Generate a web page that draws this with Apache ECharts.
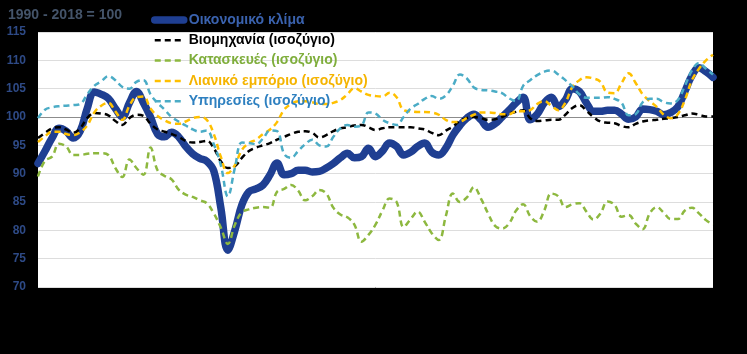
<!DOCTYPE html>
<html>
<head>
<meta charset="utf-8">
<script src="https://cdn.jsdelivr.net/npm/echarts@6/dist/echarts.min.js"></script>
<style>
  html, body { margin: 0; padding: 0; background: #000; }
  #chart { width: 747px; height: 354px; }
</style>
</head>
<body>
<div id="chart"></div>
<script>
// περίοδοι (οι ετικέτες του άξονα x δεν φαίνονται στο γράφημα)
var periods = [];
for (var i = 0; i < 97; i++) { periods.push('t' + i); }

var yTicks = [70, 75, 80, 85, 90, 95, 100, 105, 110, 115];

// Οικονομικό κλίμα
var climate = [91.8, 94, 96.3, 98, 97.5, 96.3, 97.5, 101.5, 104.4, 104, 103.3, 101.5, 100, 102.5, 104.5, 102.5,
  100, 97, 96.5, 97.3, 96.5, 94.8, 93.5, 92.7, 92.2, 90.5, 84, 76.5, 80, 84.5, 86.8, 87.3,
  88, 89.8, 91.9, 89.8, 90, 90.6, 90.6, 90.3, 90.4, 91, 91.8, 92.8, 93.6, 92.8, 93, 94.5,
  93, 94, 95.4, 94.8, 93.3, 93.8, 94.8, 95.4, 93.8, 93.3, 94.5, 96.8, 98.5, 99.8, 100.5, 99.5,
  98.2, 98.8, 100, 101.2, 102.5, 103.5, 99.5, 100.5, 102.5, 103.5, 101.8, 103, 105, 104.5, 102.5, 101,
  101, 101.2, 101.2, 100.5, 99.6, 100, 101.4, 101.3, 101, 100.4, 100.8, 101.8, 104.5, 107.3, 108.7, 108, 107];

// Βιομηχανία (ισοζύγιο)
var industry = [96.3, 97.2, 98, 98.2, 97.8, 97.2, 98, 99.8, 100.7, 100.6, 100.3, 99.3, 98.6, 99.8, 100.4, 100.2,
  98.8, 97.8, 97.4, 97, 96.5, 95.8, 95.5, 95.6, 95.8, 94.5, 92.2, 91, 91.3, 92.8, 94, 94.6,
  95, 95.4, 96, 96.5, 97, 97.4, 97.5, 97.2, 96.4, 96.8, 97.5, 98, 98.2, 98.5, 98.6, 98.2,
  97.7, 98, 98.2, 98.2, 98.2, 98.2, 98, 97.8, 97.2, 96.8, 97.6, 98.3, 99.3, 99.8, 100, 99.8,
  99.5, 99.6, 100, 100.6, 100.9, 101.2, 99.8, 99.3, 99.4, 99.5, 99.5, 100.4, 101.6, 102.1, 101.1, 100,
  99.2, 99, 98.9, 98.4, 98.2, 98.8, 99.2, 99.4, 99.5, 99.7, 99.8, 100, 100.3, 100.6, 100.4, 100.1, 100.1];

// Κατασκευές (ισοζύγιο)
var construction = [89.5, 92.3, 93, 95.3, 94.8, 93.3, 93.3, 93.5, 93.6, 93.6, 93.3, 91, 89.4, 92.5, 91, 89.8,
  94.6, 90.6, 89.6, 89, 87.2, 86.3, 85.9, 85.3, 84.8, 83, 80.5, 77.6, 81, 83.2, 83.7, 84,
  84.1, 84, 86.8, 87.3, 88, 87, 85.3, 86, 87.1, 86.5, 84, 82.8, 82.3, 81, 78, 79.2,
  81, 83.5, 85.6, 85, 80.6, 82, 83.3, 81.5, 79.5, 78.3, 82.5, 86.5, 85, 85.8, 87.6, 85.6,
  83, 80.8, 80.3, 81.2, 83.5, 84.6, 82.5, 81.5, 83.5, 86.5, 86, 84.1, 84.6, 84.8, 83.3, 81.9,
  83, 85.1, 84.5, 82.4, 82.7, 81.2, 80.2, 83, 84.1, 83.1, 82, 82, 83.5, 84, 83, 81.8, 81];

// Λιανικό εμπόριο (ισοζύγιο)
var retail = [95.6, 96.6, 97.4, 97.4, 97, 96.8, 97.3, 98.5, 100.8, 102, 102.5, 101, 99.5, 102, 103.5, 103.6,
  101.5, 100.2, 99.4, 98.9, 98.8, 99.2, 99.8, 100, 99.5, 97, 93, 90.1, 91.5, 94.2, 95.4, 96,
  97, 97.8, 99.1, 101.3, 102.3, 102.8, 102.8, 102.6, 102.3, 102.3, 102.5, 103, 104, 105.1, 104.5, 103.9,
  103.7, 103.6, 104.3, 103.5, 101.2, 101, 100.9, 100.9, 100.8, 100.4, 99.5, 99.1, 99.2, 99.8, 100.4, 100.8,
  100.8, 100.7, 100.5, 100.5, 101, 101, 101.2, 102.3, 102.8, 102, 101.2, 102.5, 105.3, 106.5, 107, 106.8,
  106.2, 104.3, 104.2, 106, 107.7, 106, 104, 102.8, 101.8, 100.4, 99.8, 100.5, 103, 106.5, 108.5, 110, 111];

// Υπηρεσίες (ισοζύγιο)
var services = [99.8, 101.3, 101.7, 101.9, 102, 102.1, 102.3, 104, 105.5, 106.3, 107.2, 106.5, 105.3, 105, 106.2, 106.5,
  104, 102.5, 101.3, 100, 99.2, 98.5, 97.8, 97.4, 97.6, 95.2, 91.5, 86, 91, 95.5, 95.4, 95.2,
  96.2, 97.6, 97.5, 93.5, 92.8, 94, 95.2, 96, 95, 94.8, 96.5, 98, 98.6, 98.3, 98.5, 100.8,
  100.6, 99.5, 98.9, 98.6, 100, 101.5, 102.3, 103.2, 103.7, 103.2, 103.8, 105.5, 107.5, 106.8, 105.2, 104.8,
  104.7, 104.5, 104.2, 103.3, 102.8, 105.5, 106.5, 107.4, 108, 108.2, 107.5, 106.5, 105.4, 104, 103.4, 103.4,
  103.4, 103.5, 103.2, 102.5, 100.3, 100.5, 102.6, 103.2, 103.2, 102.6, 102.4, 103, 105.5, 108.2, 109.5, 108.5, 107.5];

var names = ['Οικονομικό κλίμα', 'Βιομηχανία (ισοζύγιο)', 'Κατασκευές (ισοζύγιο)',
  'Λιανικό εμπόριο (ισοζύγιο)', 'Υπηρεσίες (ισοζύγιο)'];

var chart = echarts.init(document.getElementById('chart'));

function lineSeries(name, data, color, width, dashed) {
  return {
    name: name,
    type: 'line',
    data: data,
    smooth: 0.4,
    symbol: 'none',
    silent: true,
    lineStyle: { color: color, width: width, type: dashed ? [6, 4] : 'solid', cap: dashed ? 'butt' : 'round' },
    itemStyle: { color: color }
  };
}

var series = [
  lineSeries(names[0], climate, '#1F3F92', 7.5, false),
  lineSeries(names[1], industry, '#000000', 2.5, true),
  lineSeries(names[2], construction, '#8DB83F', 2.5, true),
  lineSeries(names[3], retail, '#FFC000', 2.5, true),
  lineSeries(names[4], services, '#4BACC6', 2.5, true)
];

// γραμμές πλέγματος: πιο σκούρα στο 100
var gridColors = yTicks.map(function (v) { return v === 100 ? '#8C8C8C' : '#DDDDDD'; });

chart.setOption({
  backgroundColor: '#000',
  animation: false,
  title: {
    text: '1990 - 2018 = 100',
    left: 3,
    top: 3,
    textStyle: { color: '#44546A', fontSize: 14, fontWeight: 'bold', fontFamily: 'Liberation Sans, Arial' }
  },
  legend: {
    orient: 'vertical',
    left: 146,
    top: 8,
    itemWidth: 29,
    itemHeight: 14,
    itemGap: 6.3,
    itemStyle: { opacity: 0 },
    lineStyle: { width: 'inherit' },
    textStyle: { fontSize: 14, fontWeight: 'bold', fontFamily: 'Liberation Sans, Arial' },
    data: [
      { name: names[0], textStyle: { color: '#3A62AE' } },
      { name: names[1], textStyle: { color: '#000000' } },
      { name: names[2], textStyle: { color: '#7FAE3C' } },
      { name: names[3], textStyle: { color: '#F5B400' } },
      { name: names[4], textStyle: { color: '#2E80C0' } }
    ]
  },
  grid: {
    left: 38, right: 34, top: 32, bottom: 67,
    show: true, backgroundColor: '#fff', borderWidth: 0
  },
  xAxis: {
    type: 'category',
    data: periods,
    boundaryGap: false,
    axisLine: { show: false },
    axisTick: { show: false },
    axisLabel: { show: false },
    splitLine: { show: false }
  },
  yAxis: {
    type: 'value',
    min: yTicks[0],
    max: yTicks[yTicks.length - 1],
    interval: 5,
    axisLine: { show: false },
    axisTick: { show: false },
    axisLabel: { color: '#2E4A86', fontSize: 12, fontWeight: 'bold', fontFamily: 'Liberation Sans, Arial', margin: 12 },
    splitLine: { lineStyle: { color: gridColors, width: 1 } }
  },
  series: series
});
</script>
</body>
</html>
